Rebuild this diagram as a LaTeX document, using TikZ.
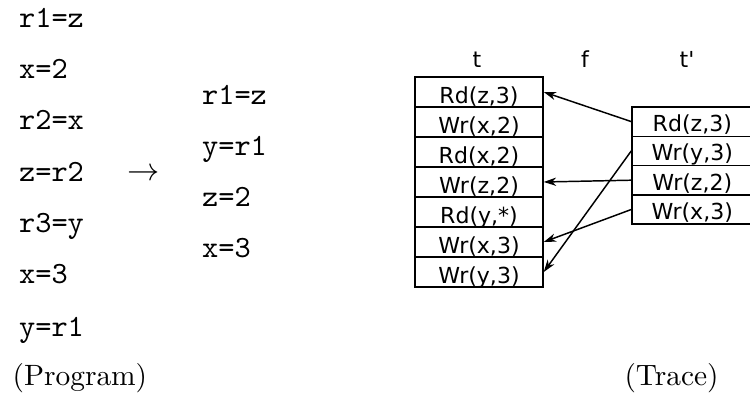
\documentclass[tikz,border=0pt]{standalone}
\usepackage{fontspec}
\newfontfamily\dvs{DejaVu Sans}
\usetikzlibrary{arrows.meta}
\begin{document}
\begin{tikzpicture}[x=0.34pt,y=-0.34pt,
  prog/.style={anchor=base west,inner sep=0pt,font=\ttfamily\fontsize{10.5}{12}\selectfont},
  capt/.style={anchor=base,inner sep=0pt},
  hdr/.style={anchor=base,inner sep=0pt,font=\dvs\fontsize{7.5}{9}\selectfont},
  cellL/.style={draw,line width=0.5pt,inner sep=0pt,minimum width=43.52pt,minimum height=10.2pt,
    text height=8.1pt,text depth=0.6pt,font=\dvs\fontsize{7.5}{9}\selectfont},
  cellR/.style={cellL,minimum width=41pt,minimum height=9.96pt,text height=7.4pt,text depth=0.6pt},
  arr/.style={line width=0.5pt,-{Stealth[length=4.2pt,width=2.8pt,inset=1.3pt]}}]
\useasboundingbox (0,0) rectangle (750,398);
% program
\node[prog] (p1) at (18.5,28) {r1=z};
\node[prog] (p2) at (18.5,79) {x=2};
\node[prog] (p3) at (18.5,130) {r2=x};
\node[prog] (p4) at (18.5,182) {z=r2};
\node[prog] (p5) at (18.5,233) {r3=y};
\node[prog] (p6) at (18.5,284) {x=3};
\node[prog] (p7) at (18.5,336) {y=r1};
\node[capt] (arrow) at (144,181) {\fontsize{11}{12}\selectfont$\rightarrow$};
\node[prog] (q1) at (201.5,105) {r1=z};
\node[prog] (q2) at (201.5,155.5) {y=r1};
\node[prog] (q3) at (201.5,206.5) {z=2};
\node[prog] (q4) at (201.5,258) {x=3};
\node[anchor=base west,inner sep=0pt] (progcap) at (12,385) {(Program)};
\node[capt] (tracecap) at (671.5,385) {(Trace)};
% headers
\node[hdr] (ht) at (477,67.5) {t};
\node[hdr] (hf) at (585,67.5) {f};
\node[hdr] (htp) at (687,67.5) {t'};
% trace t
\node[cellL] (t1) at (479,92) {Rd(z,3)};
\node[cellL] (t2) at (479,122) {Wr(x,2)};
\node[cellL] (t3) at (479,152) {Rd(x,2)};
\node[cellL] (t4) at (479,182) {Wr(z,2)};
\node[cellL] (t5) at (479,212) {Rd(y,*)};
\node[cellL] (t6) at (479,242) {Wr(x,3)};
\node[cellL] (t7) at (479,272) {Wr(y,3)};
% trace t'
\node[cellR] (u1) at (692.3,121.6) {Rd(z,3)};
\node[cellR] (u2) at (692.3,150.9) {Wr(y,3)};
\node[cellR] (u3) at (692.3,180.2) {Wr(z,2)};
\node[cellR] (u4) at (692.3,209.5) {Wr(x,3)};
% mapping f
\draw[arr] (u1.west) -- (t1.east);
\draw[arr] (u2.west) -- (t7.east);
\draw[arr] (u3.west) -- (t4.east);
\draw[arr] (u4.west) -- (t6.east);
\end{tikzpicture}
\end{document}
